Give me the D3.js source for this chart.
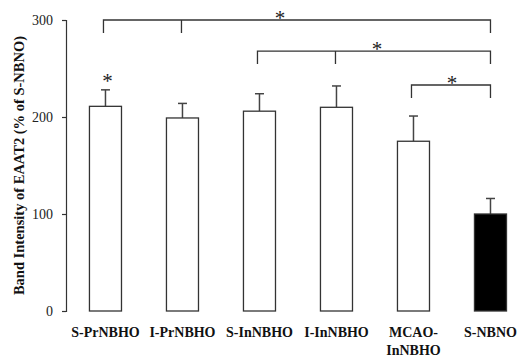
<!DOCTYPE html>
<html>
<head>
<meta charset="utf-8">
<script src="https://cdn.jsdelivr.net/npm/d3@7"></script>
<style>
  body { margin: 0; background: #fff; }
  svg { display: block; }
</style>
</head>
<body>
<div id="chart"></div>
<script>
// data
var groups = ["S-PrNBHO", "I-PrNBHO", "S-InNBHO", "I-InNBHO", "MCAO-\nInNBHO", "S-NBNO"];
var means = [211, 199, 206, 210, 175, 100];
var errors = [17, 15, 18, 22, 26, 16];
var fills = ["#fff", "#fff", "#fff", "#fff", "#fff", "#000"];
var yTicks = [0, 100, 200, 300];
// significance brackets: from bar, middle ticks, to bar, height in data units
var brackets = [
    { from: 0, mids: [1], to: 5, level: 300, starShift: -18 },
    { from: 2, mids: [3], to: 5, level: 268, starShift: 2 },
    { from: 4, mids: [], to: 5, level: 233, starShift: 0 }
];
var starOnBar = [0];

var width = 518, height = 358;
var margin = { top: 20, right: 6, bottom: 47, left: 66 };

var svg = d3.select("#chart").append("svg")
    .attr("width", width)
    .attr("height", height)
    .style("font-family", "'Liberation Serif', 'DejaVu Serif', serif");

var x = d3.scaleBand()
    .domain(groups)
    .range([margin.left, width - margin.right])
    .paddingInner(0.584)
    .paddingOuter(0.188)
    .align(0.81);

var y = d3.scaleLinear()
    .domain([0, 300])
    .range([height - margin.bottom, margin.top]);

var cx = function(i) { return x(groups[i]) + x.bandwidth() / 2; };

// y axis
var yAxis = svg.append("g")
    .attr("transform", "translate(" + margin.left + ",0)")
    .call(d3.axisLeft(y).tickValues(yTicks).tickSize(4).tickPadding(9));
yAxis.select(".domain").attr("stroke", "#333").attr("stroke-width", 1.2);
yAxis.selectAll(".tick line").attr("stroke", "#333").attr("stroke-width", 1.2);
yAxis.selectAll(".tick text")
    .attr("font-size", 14)
    .attr("font-family", "'Liberation Serif', serif")
    .attr("fill", "#222");

svg.append("text")
    .attr("transform", "translate(24," + ((margin.top + height - margin.bottom) / 2) + ") rotate(-90)")
    .attr("text-anchor", "middle")
    .attr("font-size", 14.5)
    .attr("font-weight", "bold")
    .attr("fill", "#111")
    .text("Band Intensity of EAAT2 (% of S-NBNO)");

// error bars
var err = svg.append("g").attr("stroke", "#444").attr("stroke-width", 1.5);
groups.forEach(function(g, i) {
    err.append("line")
        .attr("x1", cx(i)).attr("x2", cx(i))
        .attr("y1", y(means[i])).attr("y2", y(means[i] + errors[i]));
    err.append("line")
        .attr("x1", cx(i) - 4.5).attr("x2", cx(i) + 4.5)
        .attr("y1", y(means[i] + errors[i])).attr("y2", y(means[i] + errors[i]));
});

// bars
svg.append("g").selectAll("rect")
    .data(means)
    .enter().append("rect")
        .attr("x", function(d, i) { return x(groups[i]); })
        .attr("y", function(d) { return y(d); })
        .attr("width", x.bandwidth())
        .attr("height", function(d) { return y(0) - y(d); })
        .attr("fill", function(d, i) { return fills[i]; })
        .attr("stroke", "#333")
        .attr("stroke-width", 1.3);

// category labels
svg.append("g").selectAll("text")
    .data(groups)
    .enter().append("text")
        .attr("x", function(d, i) { return cx(i); })
        .attr("y", y(0) + 26)
        .attr("text-anchor", "middle")
        .attr("font-size", 14)
        .attr("font-weight", "bold")
        .attr("fill", "#111")
        .each(function(d) {
            var lines = d.split("\n");
            var t = d3.select(this);
            lines.forEach(function(l, k) {
                t.append("tspan")
                    .attr("x", t.attr("x"))
                    .attr("dy", k === 0 ? 0 : 18)
                    .text(l);
            });
        });

// significance brackets
var br = svg.append("g");
brackets.forEach(function(b) {
    var yy = y(b.level), drop = 13;
    var path = d3.path();
    path.moveTo(cx(b.from) - 2, yy + drop);
    path.lineTo(cx(b.from) - 2, yy);
    path.lineTo(cx(b.to), yy);
    path.lineTo(cx(b.to), yy + drop);
    b.mids.forEach(function(m) {
        path.moveTo(cx(m) - 1, yy);
        path.lineTo(cx(m) - 1, yy + drop);
    });
    br.append("path")
        .attr("d", path.toString())
        .attr("fill", "none")
        .attr("stroke", "#333")
        .attr("stroke-width", 1.3);
    br.append("text")
        .attr("x", (cx(b.from) + cx(b.to)) / 2 + b.starShift)
        .attr("y", yy + 5)
        .attr("text-anchor", "middle")
        .attr("font-size", 21)
        .attr("fill", "#222")
        .text("*");
});

starOnBar.forEach(function(i) {
    svg.append("text")
        .attr("x", cx(i) + 2)
        .attr("y", y(means[i] + errors[i]) - 2)
        .attr("text-anchor", "middle")
        .attr("font-size", 21)
        .attr("fill", "#222")
        .text("*");
});
</script>
</body>
</html>
